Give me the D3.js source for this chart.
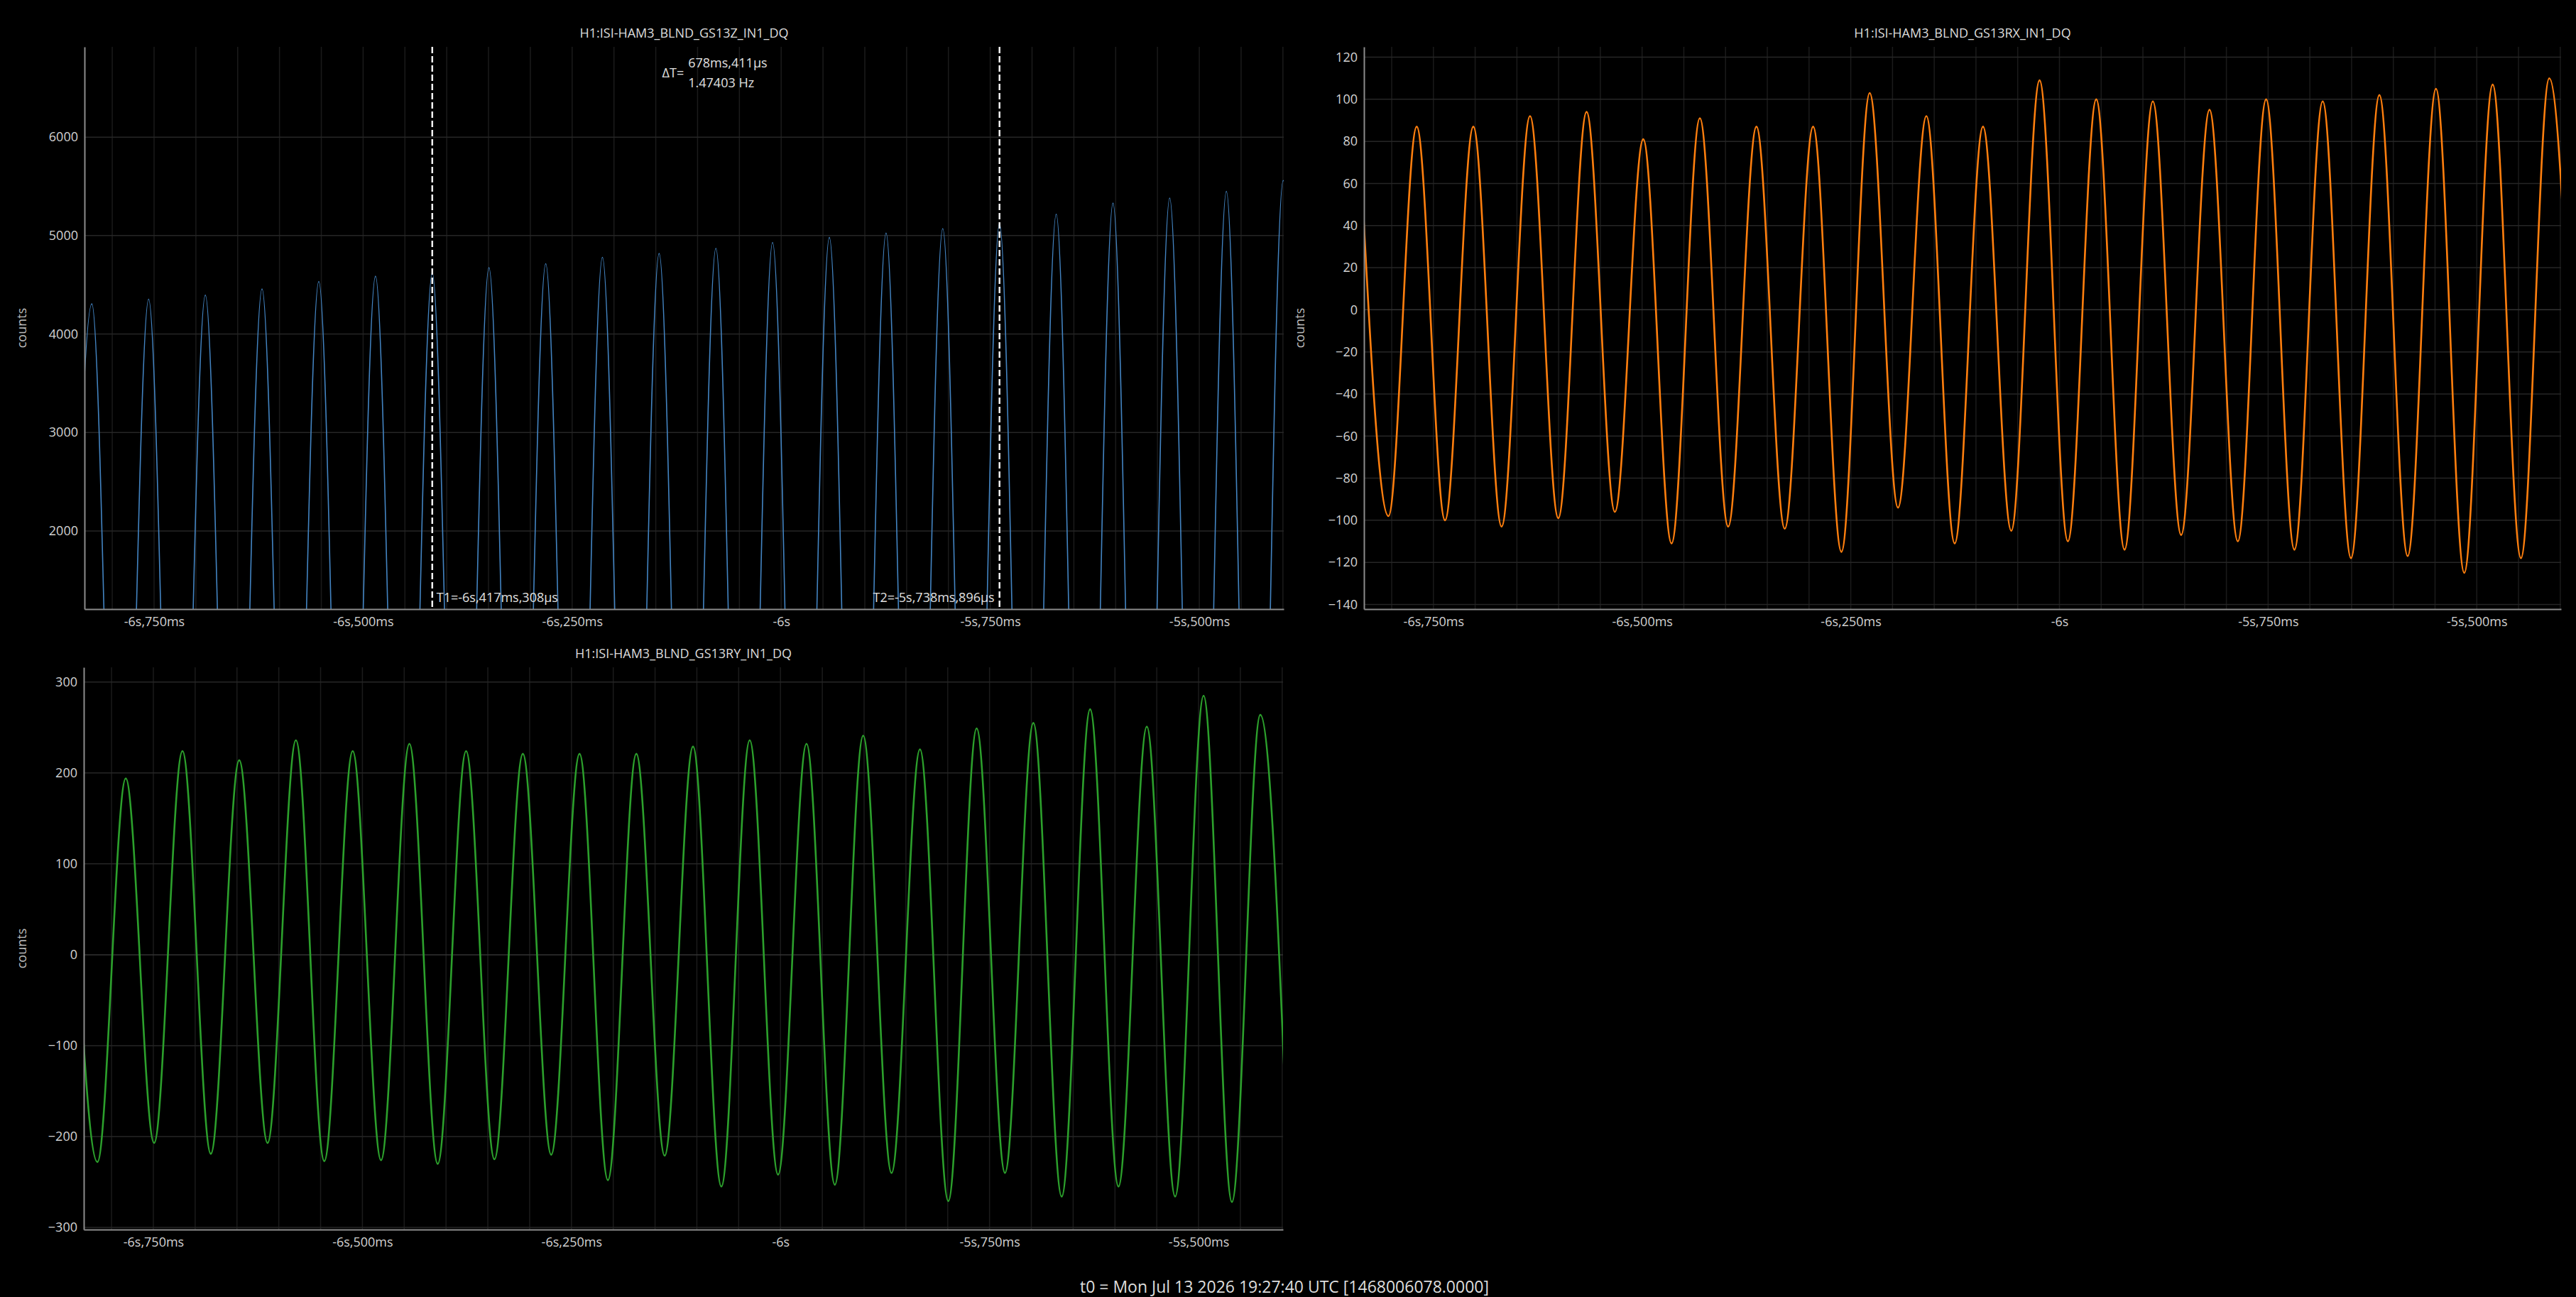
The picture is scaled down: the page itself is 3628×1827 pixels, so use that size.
<!DOCTYPE html>
<html>
<head>
<meta charset="utf-8">
<script src="https://cdn.jsdelivr.net/npm/d3@7"></script>
<style>
html, body { margin: 0; padding: 0; background: #000; }
svg { display: block; font-family: "Open Sans", "Noto Sans", sans-serif; }
</style>
</head>
<body>
<svg id="chart" width="3628" height="1827"></svg>
<script>
// shared time axis (seconds relative to t0)
var timeDomain = [-6.8332, -5.3990];
var xTickValues = [-6.75, -6.5, -6.25, -6, -5.75, -5.5];
var xTickLabels = ["-6s,750ms", "-6s,500ms", "-6s,250ms", "-6s", "-5s,750ms", "-5s,500ms"];

// GS13Z: peaks, troughs fall below the visible range (estimated)
var zPeakT = [-6.8244, -6.7565, -6.6887, -6.6209, -6.5530, -6.4852, -6.4173, -6.3495, -6.2816, -6.2138, -6.1460,
              -6.0781, -6.0103, -5.9424, -5.8746, -5.8068, -5.7389, -5.6711, -5.6032, -5.5354, -5.4676, -5.3997];
var zPeakV = [4306, 4354, 4395, 4458, 4534, 4587, 4618, 4674, 4714, 4779, 4818,
              4871, 4930, 4982, 5026, 5071, 5123, 5217, 5330, 5381, 5450, 5560];
var zTroughT = [-6.8583, -6.7905, -6.7226, -6.6548, -6.5870, -6.5191, -6.4513, -6.3834, -6.3156, -6.2477, -6.1799, -6.1121,
                -6.0442, -5.9764, -5.9085, -5.8407, -5.7729, -5.7050, -5.6372, -5.5693, -5.5015, -5.4337, -5.3658];
var zTroughV = [-3600, -3640, -3700, -3760, -3800, -3870, -3900, -3960, -4000, -4060, -4100, -4140,
                -4200, -4250, -4300, -4340, -4400, -4460, -4520, -4560, -4600, -4660, -4700];
var zTicks = [2000, 3000, 4000, 5000, 6000];

// GS13RX
var oPeakT = [-6.8378, -6.7700, -6.7022, -6.6343, -6.5665, -6.4986, -6.4308, -6.3630, -6.2951, -6.2273, -6.1594,
              -6.0916, -6.0238, -5.9559, -5.8881, -5.8202, -5.7524, -5.6846, -5.6167, -5.5489, -5.4810, -5.4132];
var oPeakV = [75, 87, 87, 92, 94, 81, 91, 87, 87, 103, 92, 87, 109, 100, 99, 95, 100, 99, 102, 105, 107, 110];
var oTroughT = [-6.8039, -6.7361, -6.6683, -6.6004, -6.5326, -6.4647, -6.3969, -6.3291, -6.2612, -6.1934, -6.1255,
                -6.0577, -5.9899, -5.9220, -5.8542, -5.7863, -5.7185, -5.6507, -5.5828, -5.5150, -5.4471, -5.3793];
var oTroughV = [-98, -100, -103, -99, -96, -111, -103, -104, -115, -94, -111, -105, -110, -114, -107, -110, -114, -118, -117, -125, -118, -112];
var oTicks = [-140, -120, -100, -80, -60, -40, -20, 0, 20, 40, 60, 80, 100, 120];

// GS13RY
var gPeakT = [-6.8508, -6.7830, -6.7152, -6.6473, -6.5795, -6.5116, -6.4438, -6.3760, -6.3081, -6.2403, -6.1724,
              -6.1046, -6.0368, -5.9689, -5.9011, -5.8332, -5.7654, -5.6976, -5.6297, -5.5619, -5.4940, -5.4262];
var gPeakV = [210, 194, 224, 214, 236, 224, 232, 224, 221, 221, 221, 229, 236, 232, 241, 226, 249, 255, 270, 251, 285, 264];
var gTroughT = [-6.8169, -6.7491, -6.6813, -6.6134, -6.5456, -6.4777, -6.4099, -6.3421, -6.2742, -6.2064, -6.1385,
                -6.0707, -6.0029, -5.9350, -5.8672, -5.7993, -5.7315, -5.6637, -5.5958, -5.5280, -5.4601, -5.3923];
var gTroughV = [-228, -207, -219, -207, -227, -226, -230, -225, -220, -248, -221, -255, -242, -253, -240, -271, -240, -266, -255, -266, -272, -245];
var gTicks = [-300, -200, -100, 0, 100, 200, 300];

// cursors
var cursorT1 = -6.417308, cursorT2 = -5.738896;
var cursorLabels = ["T1=-6s,417ms,308\u00b5s", "T2=-5s,738ms,896\u00b5s"];
var deltaLabels = ["\u0394T=", "678ms,411\u00b5s", "1.47403 Hz"];
var footerText = "t0 = Mon Jul 13 2026 19:27:40 UTC [1468006078.0000]";

function merge(pt, pv, tt, tv) {
    var a = pt.map(function(t, i){ return {t: t, v: pv[i]}; });
    var b = tt.map(function(t, i){ return {t: t, v: tv[i]}; });
    return a.concat(b).sort(function(p, q){ return p.t - q.t; });
}

var panels = [
    {title: "H1:ISI-HAM3_BLND_GS13Z_IN1_DQ", left: 119, right: 1808, top: 66, bottom: 858,
     yDomain: [1206, 6917], yTicks: zTicks, color: "#4384c2", lw: 1.6, labelX: 30,
     pts: merge(zPeakT, zPeakV, zTroughT, zTroughV), cursors: true},
    {title: "H1:ISI-HAM3_BLND_GS13RX_IN1_DQ", left: 1921, right: 3607, top: 66, bottom: 858,
     yDomain: [-142.2, 124.9], yTicks: oTicks, color: "#ff7f0e", lw: 2.6, labelX: 1830,
     pts: merge(oPeakT, oPeakV, oTroughT, oTroughV)},
    {title: "H1:ISI-HAM3_BLND_GS13RY_IN1_DQ", left: 118, right: 1807, top: 940, bottom: 1732,
     yDomain: [-302.3, 316.2], yTicks: gTicks, color: "#2ca02c", lw: 2.6, labelX: 30,
     pts: merge(gPeakT, gPeakV, gTroughT, gTroughV)}
];

var gridTimes = d3.range(-6.80, -5.395, 0.05);

var svg = d3.select("#chart");
svg.append("rect").attr("width", 3628).attr("height", 1827).attr("fill", "#000");
var defs = svg.append("defs");

panels.forEach(function(p, i) {
    var x = d3.scaleLinear().domain(timeDomain).range([p.left, p.right]);
    var y = d3.scaleLinear().domain(p.yDomain).range([p.bottom, p.top]);
    var g = svg.append("g");

    defs.append("clipPath").attr("id", "clip" + i)
        .append("rect")
        .attr("x", p.left).attr("y", p.top)
        .attr("width", p.right - p.left).attr("height", p.bottom - p.top);

    // grid
    g.selectAll(".vgrid").data(gridTimes).enter().append("line")
        .attr("x1", function(d){ return x(d); }).attr("x2", function(d){ return x(d); })
        .attr("y1", p.top).attr("y2", p.bottom)
        .attr("stroke", "#1b1b1b").attr("stroke-width", 1.5);
    g.selectAll(".hgrid").data(p.yTicks).enter().append("line")
        .attr("x1", p.left).attr("x2", p.right)
        .attr("y1", function(d){ return y(d); }).attr("y2", function(d){ return y(d); })
        .attr("stroke", function(d){ return d === 0 ? "#333" : "#262626"; })
        .attr("stroke-width", 1.5);

    // trace
    var line = d3.line()
        .x(function(d){ return x(d.t); })
        .y(function(d){ return y(d.v); })
        .curve(d3.curveMonotoneX);
    g.append("path")
        .datum(p.pts)
        .attr("clip-path", "url(#clip" + i + ")")
        .attr("fill", "none")
        .attr("stroke", p.color)
        .attr("stroke-width", p.lw)
        .attr("stroke-linejoin", "round")
        .attr("d", line);

    // axes
    var ya = g.append("g")
        .attr("transform", "translate(" + p.left + ",0)")
        .call(d3.axisLeft(y).tickValues(p.yTicks).tickSize(0).tickSizeOuter(0).tickPadding(9)
            .tickFormat(d3.format("d")));
    var xa = g.append("g")
        .attr("transform", "translate(0," + p.bottom + ")")
        .call(d3.axisBottom(x).tickValues(xTickValues).tickSize(0).tickSizeOuter(0).tickPadding(11)
            .tickFormat(function(d, k){ return xTickLabels[k]; }));
    [ya, xa].forEach(function(a) {
        a.select(".domain").attr("stroke", "#8c8c8c").attr("stroke-width", 2);
        a.selectAll("text").attr("fill", "#d2d2d2").style("font-size", "18px")
            .style("font-family", "'Open Sans', 'Noto Sans', sans-serif");
    });

    // title and unit label
    g.append("text")
        .attr("x", (p.left + p.right) / 2).attr("y", p.top - 13)
        .attr("text-anchor", "middle").attr("fill", "#dcdcdc").style("font-size", "18px")
        .text(p.title);
    g.append("text")
        .attr("transform", "translate(" + p.labelX + "," + ((p.top + p.bottom) / 2) + ") rotate(-90)")
        .attr("text-anchor", "middle").attr("dominant-baseline", "central")
        .attr("fill", "#bdbdbd").style("font-size", "18px")
        .text("counts");

    if (p.cursors) {
        var c1 = x(cursorT1), c2 = x(cursorT2);
        g.selectAll(".cursor").data([c1, c2]).enter().append("line")
            .attr("x1", function(d){ return d; }).attr("x2", function(d){ return d; })
            .attr("y1", p.top).attr("y2", p.bottom)
            .attr("stroke", "#f2f2f2").attr("stroke-width", 2.5)
            .attr("stroke-dasharray", "9,4");
        g.append("text").attr("x", c1 + 6).attr("y", p.bottom - 10)
            .attr("fill", "#e0e0e0").style("font-size", "18px").text(cursorLabels[0]);
        g.append("text").attr("x", c2 - 7).attr("y", p.bottom - 10).attr("text-anchor", "end")
            .attr("fill", "#e0e0e0").style("font-size", "18px").text(cursorLabels[1]);
        var mid = (c1 + c2) / 2;
        g.append("text").attr("x", mid - 45).attr("y", 109).attr("text-anchor", "end")
            .attr("fill", "#e0e0e0").style("font-size", "18px").text(deltaLabels[0]);
        g.append("text").attr("x", mid - 39).attr("y", 95)
            .attr("fill", "#e0e0e0").style("font-size", "18px").text(deltaLabels[1]);
        g.append("text").attr("x", mid - 39).attr("y", 123)
            .attr("fill", "#e0e0e0").style("font-size", "18px").text(deltaLabels[2]);
    }
});

svg.append("text")
    .attr("x", 1809).attr("y", 1821)
    .attr("text-anchor", "middle").attr("fill", "#dedede").style("font-size", "23px")
    .text(footerText);
</script>
</body>
</html>
